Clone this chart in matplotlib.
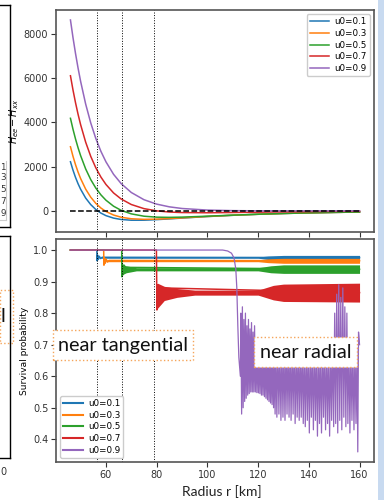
import matplotlib
matplotlib.use("Agg")
import matplotlib.pyplot as plt
from matplotlib.patches import Rectangle

# ---------------- data ----------------
labels = ["u0=0.1", "u0=0.3", "u0=0.5", "u0=0.7", "u0=0.9"]
colors = ["#1f77b4", "#ff7f0e", "#2ca02c", "#d62728", "#9467bd"]

r_H = [46, 47, 48, 49, 50, 52, 54, 56, 58, 60, 63, 66, 70, 75, 80, 85, 90, 100, 110, 120, 130, 140, 150, 160]
H_01 = [2220, 1839, 1509, 1223, 975, 573, 276, 55, -107, -224, -336, -399, -432, -431, -405, -371, -334, -265, -208, -162, -126, -98, -77, -60]
H_03 = [2900, 2466, 2085, 1751, 1459, 978, 612, 333, 122, -36, -197, -297, -366, -392, -382, -358, -326, -262, -207, -162, -126, -98, -77, -60]
H_05 = [4190, 3695, 3252, 2855, 2499, 1894, 1411, 1026, 719, 476, 204, 15, -144, -250, -293, -302, -291, -249, -202, -160, -126, -98, -77, -60]
H_07 = [6120, 5475, 4895, 4374, 3905, 3108, 2464, 1945, 1527, 1190, 805, 530, 280, 94, -8, -60, -84, -94, -82, -67, -54, -42, -33, -26]
H_09 = [8650, 7851, 7127, 6468, 5870, 4835, 3980, 3275, 2694, 2216, 1650, 1228, 825, 498, 298, 175, 100, 28, 3, -6, -7, -7, -6, -5]

resonances = [56.5, 66.3, 78.8]

# survival probability: transition lines
P01_r = [46, 56.4, 56.5, 56.7, 57.0, 57.4, 57.9, 58.5, 160]
P01_p = [1.0, 1.0, 0.966, 0.984, 0.970, 0.980, 0.973, 0.977, 0.976]
P03_r = [46, 59.1, 59.2, 59.4, 59.7, 60.1, 60.6, 61.2, 160]
P03_p = [1.0, 1.0, 0.952, 0.975, 0.958, 0.971, 0.962, 0.967, 0.966]
P05_r = [46, 66.2, 66.3, 66.5, 66.8, 67.2, 67.7, 68.4, 160]
P05_p = [1.0, 1.0, 0.915, 0.955, 0.922, 0.952, 0.930, 0.945, 0.939]
P07_r = [46, 79.9, 80.1, 80.4, 80.8, 81.3, 160]
P07_p = [1.0, 1.0, 0.81, 0.89, 0.83, 0.88, 0.865]

# fast oscillation envelopes (bands)
B01_r = [58, 120, 124, 130, 160]
B01_lo = [0.974, 0.974, 0.970, 0.969, 0.969]
B01_hi = [0.978, 0.978, 0.981, 0.983, 0.983]
B03_r = [60, 120, 124, 130, 160]
B03_lo = [0.963, 0.963, 0.960, 0.958, 0.958]
B03_hi = [0.969, 0.969, 0.972, 0.974, 0.974]
B05_r = [66.5, 68, 72, 120, 125, 130, 160]
B05_lo = [0.922, 0.928, 0.934, 0.934, 0.928, 0.926, 0.926]
B05_hi = [0.955, 0.950, 0.944, 0.944, 0.950, 0.953, 0.953]
B07_r = [80.3, 83, 88, 95, 120, 126, 130, 160]
B07_lo = [0.815, 0.840, 0.850, 0.857, 0.857, 0.842, 0.837, 0.835]
B07_hi = [0.895, 0.885, 0.878, 0.873, 0.873, 0.888, 0.892, 0.895]

P09_r = [46, 106, 108, 109.5, 110.5, 111.2, 111.6, 112.0, 112.4, 112.8,
         113.0, 113.2, 113.5, 113.8, 114.1, 114.4, 114.7, 115.0, 115.3, 115.6,
         115.9, 116.2, 116.5, 116.8, 117.1, 117.4, 117.7, 118.0, 118.3, 118.6,
         118.9, 119.2, 119.5, 119.8, 120.1, 120.4, 120.7, 121.0, 121.3, 121.6,
         121.9, 122.2, 122.5, 122.8, 123.1, 123.4, 123.7, 124.0, 124.3, 124.6,
         124.9, 125.2, 125.5, 125.8, 126.1, 126.4, 126.7, 127.0, 127.4, 127.8,
         128.2, 128.6, 129.0, 129.4, 129.8, 130.2, 130.6, 131.0, 131.4, 131.8,
         132.2, 132.6, 133.0, 133.4, 133.8, 134.2, 134.6, 135.0, 135.4, 135.8,
         136.2, 136.6, 137.0, 137.4, 137.8, 138.2, 138.6, 139.0, 139.4, 139.8,
         140.2, 140.6, 141.0, 141.4, 141.8, 142.2, 142.6, 143.0, 143.4, 143.8,
         144.2, 144.6, 145.0, 145.4, 145.8, 146.2, 146.6, 147.0, 147.4, 147.8,
         148.2, 148.6, 149.0, 149.4, 149.8, 150.2, 150.6, 151.0, 151.4, 151.8,
         152.2, 152.6, 153.0, 153.4, 153.8, 154.2, 154.6, 155.0, 155.4, 155.8,
         156.2, 156.6, 157.0, 157.4, 157.8, 158.2, 158.6, 159.0, 159.3, 159.6, 160.0]
P09_p = [1.0, 1.0, 0.997, 0.99, 0.975, 0.94, 0.88, 0.76, 0.66, 0.62,
         0.60, 0.80, 0.48, 0.82, 0.50, 0.78, 0.52, 0.80, 0.53, 0.76,
         0.54, 0.78, 0.545, 0.75, 0.55, 0.77, 0.55, 0.74, 0.55, 0.76,
         0.55, 0.72, 0.548, 0.72, 0.547, 0.71, 0.545, 0.72, 0.54, 0.70,
         0.54, 0.71, 0.535, 0.70, 0.53, 0.71, 0.525, 0.70, 0.52, 0.70,
         0.515, 0.70, 0.51, 0.69, 0.50, 0.70, 0.48, 0.69, 0.47, 0.70,
         0.48, 0.69, 0.46, 0.70, 0.47, 0.69, 0.46, 0.70, 0.48, 0.69,
         0.47, 0.70, 0.46, 0.69, 0.48, 0.70, 0.45, 0.69, 0.47, 0.70,
         0.46, 0.69, 0.47, 0.70, 0.45, 0.69, 0.44, 0.70, 0.46, 0.69,
         0.42, 0.70, 0.47, 0.69, 0.43, 0.70, 0.46, 0.69, 0.41, 0.70,
         0.45, 0.69, 0.42, 0.70, 0.47, 0.69, 0.43, 0.70, 0.45, 0.69,
         0.41, 0.70, 0.46, 0.72, 0.44, 0.80, 0.45, 0.86, 0.42, 0.89,
         0.46, 0.85, 0.43, 0.88, 0.47, 0.82, 0.44, 0.80, 0.45, 0.72,
         0.42, 0.70, 0.46, 0.69, 0.43, 0.70, 0.45, 0.69, 0.36, 0.74, 0.70]

# ---------------- figure ----------------
W, Hh = 384, 500
fig = plt.figure(figsize=(W / 100, Hh / 100), dpi=100)

def fx(px):
    return px / W

def fy(py):
    return 1 - py / Hh

spine_c = "#555555"
tick_c = "#333333"

ax1 = fig.add_axes([fx(56), fy(232), fx(374) - fx(56), fy(10) - fy(232)])
ax2 = fig.add_axes([fx(56), fy(462), fx(374) - fx(56), fy(239) - fy(462)])

H_sets = [H_01, H_03, H_05, H_07, H_09]
for H, c, lab in zip(H_sets, colors, labels):
    ax1.plot(r_H, H, color=c, lw=1.1, label=lab)
ax1.plot([r_H[0], r_H[-1]], [0, 0], color="black", ls="--", lw=1.1)
for rr in resonances:
    ax1.axvline(rr, color="black", ls=":", lw=0.7)
ax1.set_xlim(40.3, 165.7)
ax1.set_ylim(-966, 9102)
ax1.set_yticks([0, 2000, 4000, 6000, 8000])
ax1.set_xticks([60, 80, 100, 120, 140, 160])
ax1.tick_params(labelbottom=False)
ax1.set_ylabel(r"$H_{ee}-H_{xx}$", fontsize=7, labelpad=2)
leg1 = ax1.legend(loc="upper right", fontsize=6.3, handlelength=2.2,
                  borderpad=0.35, labelspacing=0.3, handletextpad=0.6, framealpha=1)

lines = [(P01_r, P01_p), (P03_r, P03_p), (P05_r, P05_p), (P07_r, P07_p)]
bands = [(B01_r, B01_lo, B01_hi), (B03_r, B03_lo, B03_hi),
         (B05_r, B05_lo, B05_hi), (B07_r, B07_lo, B07_hi)]
for (lr, lp), (br, blo, bhi), c, lab in zip(lines, bands, colors[:4], labels[:4]):
    ax2.plot(lr, lp, color=c, lw=1.1, label=lab)
    ax2.fill_between(br, blo, bhi, color=c, lw=0)
ax2.plot(P09_r, P09_p, color=colors[4], lw=0.9, label=labels[4])
for rr in resonances:
    ax2.axvline(rr, color="black", ls=":", lw=0.7)
ax2.set_xlim(40.3, 165.7)
ax2.set_ylim(0.328, 1.035)
ax2.set_xticks([60, 80, 100, 120, 140, 160])
ax2.set_yticks([0.4, 0.5, 0.6, 0.7, 0.8, 0.9, 1.0])
ax2.set_ylabel("Survival probability", fontsize=6.5, labelpad=3)
leg2 = ax2.legend(loc="lower left", fontsize=6.3, handlelength=2.2,
                  borderpad=0.35, labelspacing=0.3, handletextpad=0.6, framealpha=1)
for lh in leg2.get_lines():
    lh.set_linewidth(1.5)

for ax in (ax1, ax2):
    for s in ax.spines.values():
        s.set_color(spine_c)
        s.set_linewidth(1.2)
    ax.tick_params(labelsize=7, colors=tick_c, length=3.5, width=0.8, pad=2)
    for t in ax.get_xticklabels() + ax.get_yticklabels():
        t.set_color(tick_c)

# ---------------- slide overlays ----------------
fig.text(fx(222), fy(492), "Radius r [km]", fontsize=10, family="Lato",
         ha="center", va="center", color="#222222")

def tbox(x0, y0, x1, y1, txt, fs):
    fig.add_artist(Rectangle((fx(x0), fy(y1)), fx(x1) - fx(x0), fy(y0) - fy(y1),
                             transform=fig.transFigure, fc="white", ec="#f5a55a",
                             ls=":", lw=1.0, zorder=10))
    fig.text(fx((x0 + x1) / 2), fy((y0 + y1) / 2), txt, fontsize=fs, family="Lato",
             ha="center", va="center", color="#111111", zorder=11)

tbox(53, 330, 193, 360, "near tangential", 14.3)
tbox(254, 337, 357, 367, "near radial", 14.3)

# left neighbouring panel fragments (only the visible glyphs)
k = dict(transform=fig.transFigure, color="black", lw=1.0)
fig.add_artist(plt.Line2D([0, fx(9.5)], [fy(5), fy(5)], **k))
fig.add_artist(plt.Line2D([fx(9.5), fx(9.5)], [fy(5), fy(227)], **k))
fig.add_artist(plt.Line2D([0, fx(9.5)], [fy(227), fy(227)], **k))
fig.add_artist(plt.Line2D([0, fx(10)], [fy(236), fy(236)], **k))
fig.add_artist(plt.Line2D([fx(10), fx(10)], [fy(236), fy(458)], **k))
fig.add_artist(plt.Line2D([0, fx(10)], [fy(458), fy(458)], **k))
fig.add_artist(plt.Line2D([fx(6.3), fx(6.3)], [fy(161), fy(220)], transform=fig.transFigure,
                          color="#cccccc", lw=0.8))
fig.add_artist(plt.Line2D([0, fx(6.3)], [fy(220), fy(220)], transform=fig.transFigure,
                          color="#cccccc", lw=0.8))
for yy, t in zip([167, 178, 190, 202, 214], ["1", "3", "5", "7", "9"]):
    fig.text(fx(0.2), fy(yy), t, fontsize=6.3, ha="left", va="center", color="#333333")
fig.add_artist(Rectangle((0, fy(343)), fx(12.7), fy(290) - fy(343), transform=fig.transFigure,
                         fc="white", ec="#f5a55a", ls=":", lw=1.0))
fig.text(fx(0.3), fy(316), "l", fontsize=14.3, family="Lato",
         ha="left", va="center", color="#111111")
fig.text(fx(0.0), fy(472), "0", fontsize=7, ha="left", va="center", color=tick_c)

# right side light-blue bar
fig.add_artist(Rectangle((fx(378), 0), 1 - fx(378), 1, transform=fig.transFigure,
                         fc="#c8daf0", ec="none"))

fig.savefig("out.png", dpi=100)
